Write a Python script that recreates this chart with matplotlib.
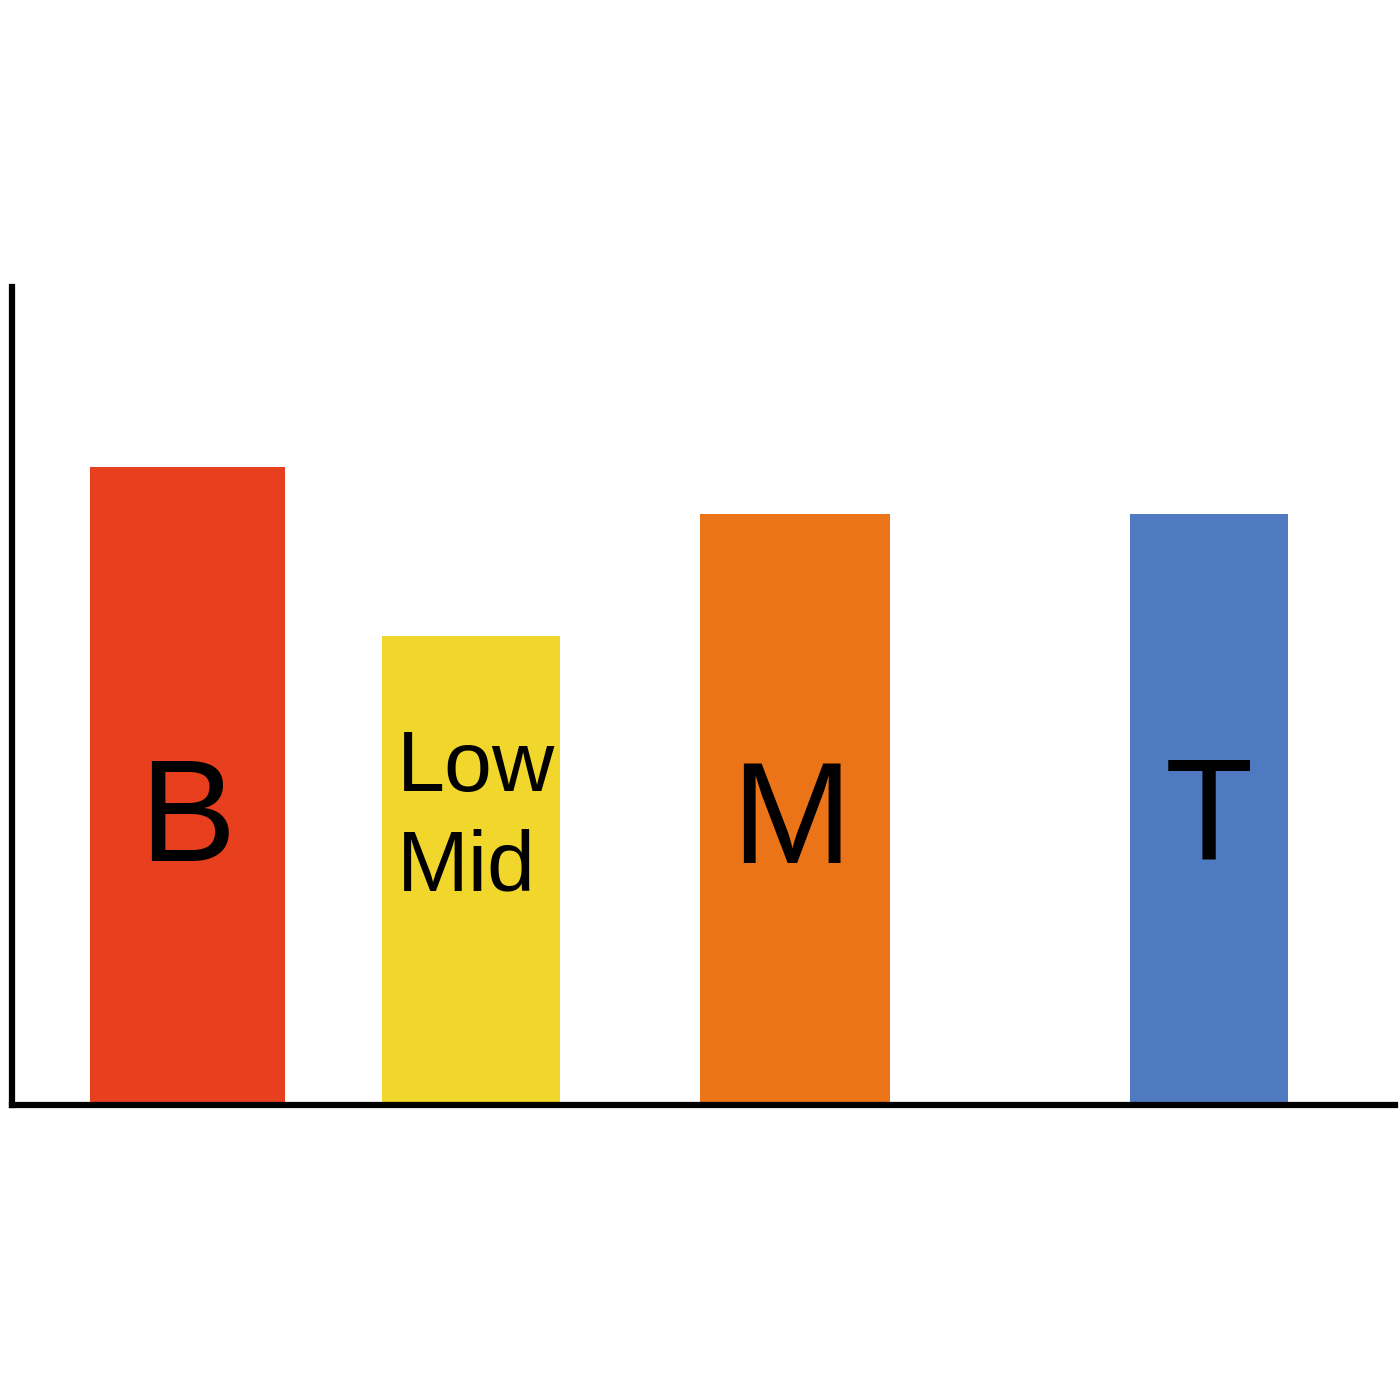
import matplotlib
matplotlib.use('Agg')
import matplotlib.pyplot as plt

# Chart data
labels = ['B', 'Low\nMid', 'M', 'T']
values = [78, 57.3, 72.3, 72.3]
colors = ['#E8401F', '#F1D72B', '#EC7418', '#4F79C0']

# layout (x positions / widths in axis units, image is not evenly spaced)
x_pos = [187, 471, 795, 1209]
widths = [195, 178, 190, 158]

plt.rcParams['font.family'] = ['Liberation Sans', 'DejaVu Sans']

fig = plt.figure(figsize=(14, 14), dpi=100)
ax = fig.add_axes([12 / 1400, 295 / 1400, 1383 / 1400, 818 / 1400])

ax.bar(x_pos, values, width=widths, color=colors, zorder=1)

ax.set_xlim(12, 1395)
ax.set_ylim(0, 100)

# labels inside the bars
ax.text(x_pos[0], 34.4, labels[0], ha='center', va='center', fontsize=104)
ax.text(397, 35, labels[1], ha='left', va='center', fontsize=62, linespacing=1.3)
ax.text(x_pos[2] - 4, 34.2, labels[2], ha='center', va='center', fontsize=104)
ax.text(x_pos[3], 34.6, labels[3], ha='center', va='center', fontsize=104)

for s in ['top', 'right']:
    ax.spines[s].set_visible(False)
for s in ['left', 'bottom']:
    ax.spines[s].set_linewidth(4.5)
    ax.spines[s].set_color('black')
ax.set_xticks([])
ax.set_yticks([])

plt.savefig('out.png', dpi=100)
